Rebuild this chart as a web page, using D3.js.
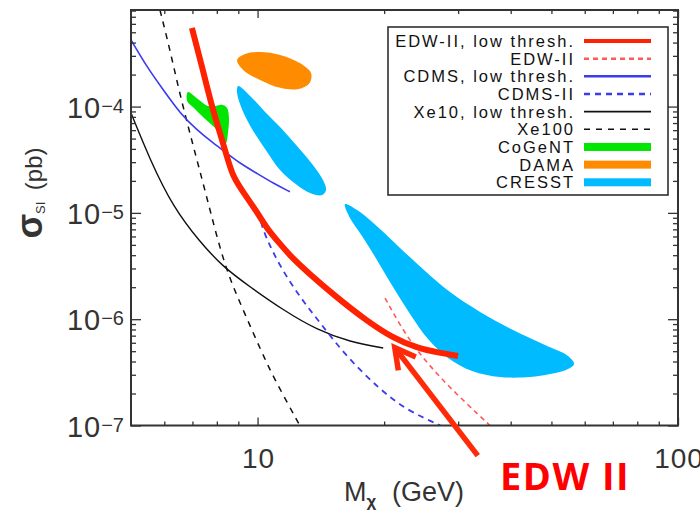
<!DOCTYPE html>
<html>
<head>
<meta charset="utf-8">
<script src="https://cdn.jsdelivr.net/npm/d3@7"></script>
<style>
  html, body { margin: 0; padding: 0; background: #fff; }
  svg { display: block; font-family: "Liberation Sans", Arial, sans-serif; }
</style>
</head>
<body>
<svg id="chart" width="700" height="511"></svg>
<script>
// limits: [mass (GeV), sigma_SI (pb)]
const edwLowThresh = [[6.98,5.49e-4],[7.38,2.36e-4],[7.79,9.92e-5],[8.14,5.65e-5],[8.46,3.36e-5],[8.74,2.18e-5],
  [9.24,1.57e-5],[9.97,1.02e-5],[10.53,7.1e-6],[11.31,5.1e-6],[12.14,3.7e-6],[13.11,2.8e-6],[15.2,1.68e-6],
  [18.21,9.6e-7],[21.0,6.65e-7],[23.94,5.36e-7],[27.16,4.81e-7],[29.98,4.51e-7]];
const edw2 = [[20.1,1.58e-6],[21.8,8.8e-7],[23.9,5.1e-7],[27.2,2.8e-7],[31.5,1.59e-7],[35.7,1.0e-7]];
const cdmsLowThresh = [[5.0,4.23e-4],[5.45,2.37e-4],[5.97,1.43e-4],[6.54,8.65e-5],[7.17,6.02e-5],[7.85,4.52e-5],
  [8.45,3.64e-5],[9.08,2.93e-5],[9.95,2.36e-5],[10.9,1.90e-5],[11.94,1.58e-5]];
const cdms2 = [[10.19,8.2e-6],[10.4,6.2e-6],[11.31,3.12e-6],[12.6,1.62e-6],[14.1,9.2e-7],[16.3,4.4e-7],
  [19.6,2.16e-7],[22.6,1.40e-7],[27.2,1.0e-7]];
const xe10LowThresh = [[5.0,8.7e-5],[5.55,3.15e-5],[6.29,1.14e-5],[7.29,5.33e-6],[8.28,3.10e-6],[9.60,2.01e-6],
  [11.5,1.22e-6],[13.85,7.91e-7],[16.6,6.10e-7],[19.9,5.36e-7]];
const xe100 = [[5.86,8.1e-4],[6.19,3.41e-4],[6.50,1.43e-4],[6.87,6.02e-5],[7.25,2.70e-5],[7.71,1.06e-5],
  [8.37,3.03e-6],[9.24,1.22e-6],[10.25,4.81e-7],[10.9,2.86e-7],[12.6,1.0e-7]];

// allowed regions (closed outlines)
const cogent = [[6.83,1.37e-4],[7.21,1.18e-4],[7.62,1.01e-4],[7.88,1.01e-4],[8.23,1.04e-4],[8.46,9.7e-5],
  [8.55,7.81e-5],[8.51,5.77e-5],[8.41,4.55e-5],[8.23,5.29e-5],[7.88,6.43e-5],[7.46,7.81e-5],[7.06,9.7e-5],
  [6.80,1.13e-4]];
const dama = [[8.94,2.74e-4],[9.34,3.12e-4],[10.14,3.26e-4],[11.31,3.06e-4],[12.6,2.57e-4],[13.4,2.07e-4],
  [13.3,1.67e-4],[12.5,1.46e-4],[11.31,1.50e-4],[10.14,1.78e-4],[9.24,2.21e-4]];
const cresstA = [[8.99,1.56e-4],[9.60,1.26e-4],[10.42,8.9e-5],[11.37,6.29e-5],[12.41,4.26e-5],[13.48,2.88e-5],
  [14.31,2.04e-5],[14.55,1.64e-5],[14.24,1.47e-5],[13.33,1.54e-5],[12.41,1.83e-5],[11.31,2.53e-5],
  [10.42,3.99e-5],[9.70,6.16e-5],[9.18,9.49e-5],[8.94,1.34e-4]];
const cresstB = [[16.14,1.21e-5],[17.53,1.02e-5],[19.55,7.06e-6],[21.82,4.68e-6],[25.03,2.84e-6],[28.69,1.80e-6],
  [33.82,1.17e-6],[40.52,7.91e-7],[48.28,5.72e-7],[54.76,4.51e-7],[56.6,3.79e-7],[54.15,3.33e-7],[49.62,3.05e-7],
  [44.47,2.86e-7],[37.73,2.86e-7],[32.37,3.26e-7],[28.38,4.32e-7],[25.44,6.51e-7],[23.05,1.12e-6],[21.0,2.01e-6],
  [19.23,3.61e-6],[17.72,6.06e-6],[16.59,8.95e-6]];

// axis ticks
const xMajor = [10, 100];
const xMinor = [6, 7, 8, 9, 20, 30, 40, 50, 60, 70, 80, 90];
const yMajor = [1e-7, 1e-6, 1e-5, 1e-4];
const yMinor = [];
[1e-7, 1e-6, 1e-5, 1e-4].forEach(d => { for (let k = 2; k <= 9; k++) if (d * k <= 8.1e-4) yMinor.push(d * k); });
const yLabels = ['-7', '-6', '-5', '-4'];
const xLabels = ['10', '100'];

const legendLabels = ['EDW-II, low thresh.', 'EDW-II', 'CDMS, low thresh.', 'CDMS-II', 'Xe10, low thresh.',
  'Xe100', 'CoGeNT', 'DAMA', 'CRESST'];

// annotation arrow: [mass, sigma] from tail to tip
const arrowTail = [33.4, 5.2e-8];
const arrowTip = [21.2, 5.4e-7];
const annotation = 'EDW II';

const styles = {
  'EDW-II, low thresh.': { stroke: '#ff2200', width: 6, dash: null, legendWidth: 4 },
  'EDW-II': { stroke: '#ff5a5a', width: 1.6, dash: '5,4', legendWidth: 2.5 },
  'CDMS, low thresh.': { stroke: '#3b3bf0', width: 1.6, dash: null, legendWidth: 2.5 },
  'CDMS-II': { stroke: '#3b3bf0', width: 1.8, dash: '6,5', legendWidth: 2.5 },
  'Xe10, low thresh.': { stroke: '#111', width: 1.4, dash: null, legendWidth: 1.6 },
  'Xe100': { stroke: '#111', width: 1.5, dash: '6,6', legendWidth: 1.6 },
  'CoGeNT': { fill: '#00e600' },
  'DAMA': { fill: '#ff8c00' },
  'CRESST': { fill: '#00bbff' }
};

const svg = d3.select('#chart');
const plotLeft = 131, plotRight = 678, plotTop = 10, plotBottom = 425.5;

const x = d3.scaleLog().domain([5, 100]).range([plotLeft, plotRight]);
const y = d3.scaleLog().domain([1e-7, 8.1e-4]).range([plotBottom, plotTop]);

svg.append('defs').append('clipPath').attr('id', 'plot-clip')
  .append('rect').attr('x', plotLeft).attr('y', plotTop)
  .attr('width', plotRight - plotLeft).attr('height', plotBottom - plotTop);

const plot = svg.append('g').attr('clip-path', 'url(#plot-clip)');

const area = d3.line().x(d => x(d[0])).y(d => y(d[1])).curve(d3.curveCatmullRomClosed.alpha(0.5));
const curve = d3.line().x(d => x(d[0])).y(d => y(d[1])).curve(d3.curveBasis);

[[cresstA, 'CRESST'], [cresstB, 'CRESST'], [dama, 'DAMA'], [cogent, 'CoGeNT']].forEach(([pts, name]) => {
  plot.append('path').attr('d', area(pts)).attr('fill', styles[name].fill);
});

const lines = [
  [xe100, 'Xe100'], [xe10LowThresh, 'Xe10, low thresh.'], [cdms2, 'CDMS-II'],
  [cdmsLowThresh, 'CDMS, low thresh.'], [edw2, 'EDW-II'], [edwLowThresh, 'EDW-II, low thresh.']
];
lines.forEach(([pts, name]) => {
  const s = styles[name];
  plot.append('path').attr('d', curve(pts))
    .attr('fill', 'none')
    .attr('stroke', s.stroke)
    .attr('stroke-width', s.width)
    .attr('stroke-dasharray', s.dash);
});

// ticks on all four sides (inward)
function ticks(axis, tr) {
  svg.append('g').attr('transform', tr).call(axis)
    .call(g => g.select('.domain').remove())
    .call(g => g.selectAll('text').remove())
    .call(g => g.selectAll('line').attr('stroke', '#333').attr('stroke-width', 1.3));
}
ticks(d3.axisBottom(x).tickValues(xMinor).tickSize(-4), `translate(0,${plotBottom})`);
ticks(d3.axisBottom(x).tickValues(xMajor).tickSize(-8), `translate(0,${plotBottom})`);
ticks(d3.axisTop(x).tickValues(xMinor).tickSize(-4), `translate(0,${plotTop})`);
ticks(d3.axisTop(x).tickValues(xMajor).tickSize(-8), `translate(0,${plotTop})`);
ticks(d3.axisLeft(y).tickValues(yMinor).tickSize(-5), `translate(${plotLeft},0)`);
ticks(d3.axisLeft(y).tickValues(yMajor).tickSize(-10), `translate(${plotLeft},0)`);
ticks(d3.axisRight(y).tickValues(yMinor).tickSize(-5), `translate(${plotRight},0)`);
ticks(d3.axisRight(y).tickValues(yMajor).tickSize(-10), `translate(${plotRight},0)`);

svg.append('rect').attr('x', plotLeft).attr('y', plotTop)
  .attr('width', plotRight - plotLeft).attr('height', plotBottom - plotTop)
  .attr('fill', 'none').attr('stroke', '#333').attr('stroke-width', 2);

// tick labels
const yl = svg.append('g').attr('fill', '#333');
yMajor.forEach((v, i) => {
  const t = yl.append('text').attr('x', 124).attr('y', y(v) + 11).attr('text-anchor', 'end');
  t.append('tspan').attr('font-size', 29).attr('letter-spacing', 1).text('10');
  t.append('tspan').attr('font-size', 20).attr('dy', -5).text(yLabels[i].replace('-', '\u2212'));
});
xMajor.forEach((v, i) => {
  svg.append('text').attr('x', x(v) + 1).attr('y', 468).attr('text-anchor', 'middle')
    .attr('font-size', 28).attr('letter-spacing', 1).attr('fill', '#333').text(xLabels[i]);
});

// axis titles
const yt = svg.append('text').attr('transform', 'translate(42,193) rotate(-90)')
  .attr('text-anchor', 'middle').attr('fill', '#333');
yt.append('tspan').attr('font-size', 36).attr('font-weight', 'bold').text('\u03c3');
yt.append('tspan').attr('font-size', 13).attr('dy', 3).text('SI');
yt.append('tspan').attr('font-size', 24).attr('dy', -3).text('\u2009 (pb)');

const xt = svg.append('text').attr('x', 344).attr('y', 501).attr('fill', '#333').attr('font-size', 27);
xt.append('tspan').text('M');
xt.append('tspan').attr('font-size', 17).attr('font-weight', 'bold').attr('dy', 6).text('\u03c7');
xt.append('tspan').attr('x', 392).attr('dy', -6).text('(GeV)');

// legend
const lg = svg.append('g');
lg.append('rect').attr('x', 388).attr('y', 27).attr('width', 280).attr('height', 168)
  .attr('fill', '#fff').attr('stroke', '#222').attr('stroke-width', 1.5);
const rowY = d3.scalePoint().domain(legendLabels).range([41, 182.3]);
legendLabels.forEach(name => {
  const s = styles[name];
  const ry = rowY(name);
  lg.append('text').attr('x', 575).attr('y', ry + 6).attr('text-anchor', 'end')
    .attr('font-size', 16.5).attr('letter-spacing', 2).attr('fill', '#111').text(name);
  if (s.fill) {
    lg.append('rect').attr('x', 584).attr('y', ry - 4).attr('width', 67).attr('height', 8).attr('fill', s.fill);
  } else {
    lg.append('line').attr('x1', 584).attr('x2', 651).attr('y1', ry).attr('y2', ry)
      .attr('stroke', s.stroke).attr('stroke-width', s.legendWidth).attr('stroke-dasharray', s.dash);
  }
});

// annotation
const ax0 = x(arrowTail[0]), ay0 = y(arrowTail[1]), ax1 = x(arrowTip[0]), ay1 = y(arrowTip[1]);
const ang = Math.atan2(ay0 - ay1, ax0 - ax1);
const headLen = 23, spread = 0.5;
const red = '#ff2a08';
svg.append('line').attr('x1', ax0).attr('y1', ay0).attr('x2', ax1).attr('y2', ay1)
  .attr('stroke', red).attr('stroke-width', 5.5);
svg.append('path')
  .attr('d', `M${ax1 + headLen * Math.cos(ang - spread)},${ay1 + headLen * Math.sin(ang - spread)}` +
    `L${ax1},${ay1}L${ax1 + headLen * Math.cos(ang + spread)},${ay1 + headLen * Math.sin(ang + spread)}`)
  .attr('fill', 'none').attr('stroke', red).attr('stroke-width', 5.5).attr('stroke-linejoin', 'miter');
svg.append('text').attr('x', 500).attr('y', 490).attr('font-family', '"Open Sans", sans-serif')
  .attr('font-weight', 'bold').attr('font-size', 38).attr('letter-spacing', 1.5)
  .attr('fill', '#ff0000').text(annotation);
</script>
</body>
</html>
